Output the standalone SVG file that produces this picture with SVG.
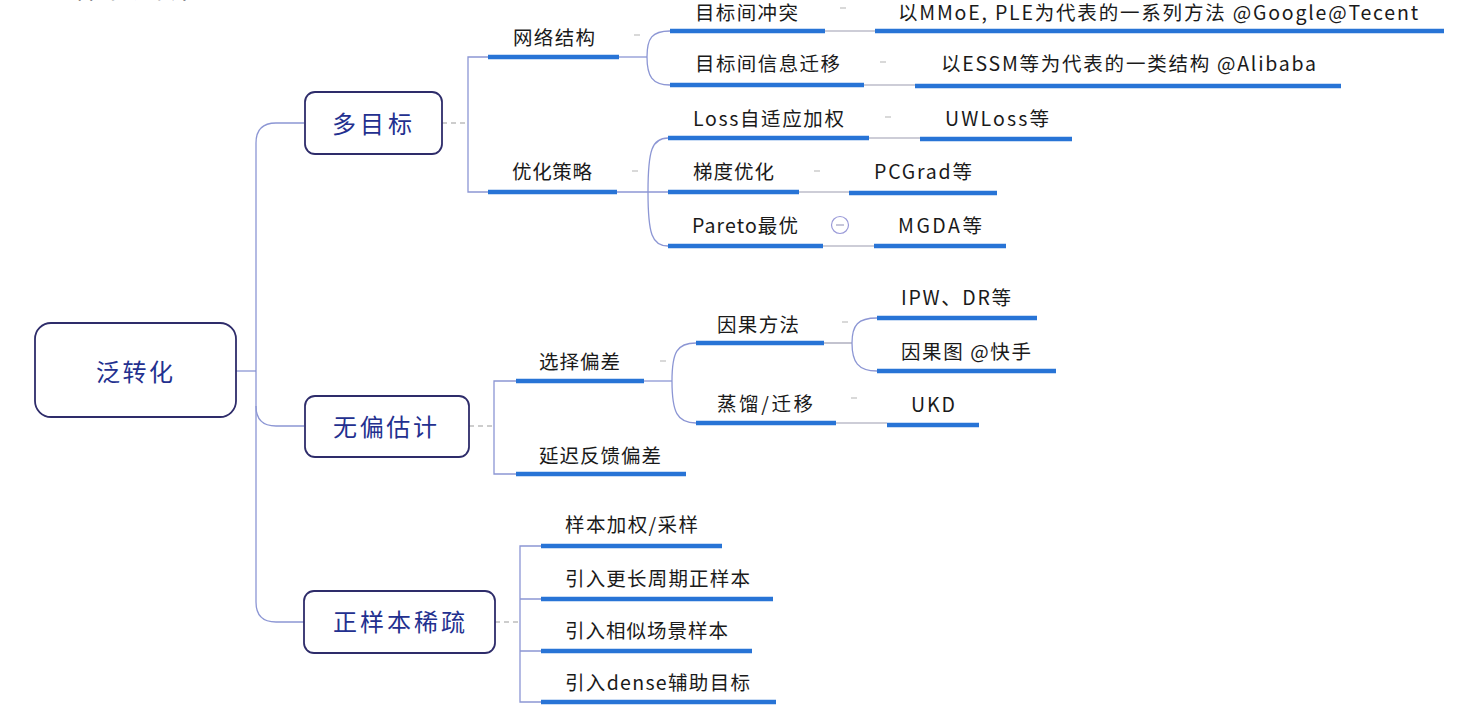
<svg xmlns="http://www.w3.org/2000/svg" width="1474" height="712" viewBox="0 0 1474 712">
<style>
.box{fill:#fff;stroke:#2e2c6a;stroke-width:1.8}
.bt{font-family:"Noto Sans CJK SC","Noto Sans",sans-serif;font-size:24px;fill:#23308f}
.t{font-family:"Noto Sans CJK SC","Noto Sans",sans-serif;font-size:19.5px;fill:#1a1a1a}
.ul{stroke:#2874d6;stroke-width:4.5;fill:none}
.c{stroke:#8c96d4;stroke-width:1.3;fill:none}
.g{stroke:#9b9bb0;stroke-width:1.2;fill:none}
.d{stroke:#bdbdbd;stroke-width:1.3;stroke-dasharray:5 4;fill:none}
.m{stroke:#c4c4c4;stroke-width:1.3}
</style>
<rect width="1474" height="712" fill="#fff"/>
<text x="22" y="-2" font-family="Noto Sans CJK SC, sans-serif" font-size="26" fill="#222">二、样本泛转化</text>

<g id="connectors">
<path class="c" d="M236,371 H256"/>
<path class="c" d="M304,123 H276 Q256,123 256,143 V602 Q256,622 276,622 H304"/>
<path class="c" d="M256,406 Q256,426 276,426 H304"/>
<path class="d" d="M442,123 H468"/>
<path class="c" d="M488,57 H468 V192 H488"/>
<path class="c" d="M619,57 H647"/>
<path class="c" d="M647,57 C647,38 652,31 670,31"/>
<path class="c" d="M647,57 C647,76 652,85 670,85"/>
<path class="g" d="M825,31 H875"/>
<path class="g" d="M864,85 H915"/>
<path class="c" d="M617,192 H668"/>
<path class="c" d="M648,192 C648,150 652,138 668,138"/>
<path class="c" d="M648,192 C648,234 652,246 668,246"/>
<path class="g" d="M869,138 H920"/>
<path class="g" d="M799,192 H849"/>
<path class="g" d="M823,246 H874"/>
<path class="d" d="M469,426 H494"/>
<path class="c" d="M516,381 H494 V474 H516"/>
<path class="c" d="M644,381 H672"/>
<path class="c" d="M672,381 C672,352 677,343 696,343"/>
<path class="c" d="M672,381 C672,412 677,423 696,423"/>
<path class="g" d="M824,343 H852"/>
<path class="c" d="M852,343 C852,325 858,318 877,318"/>
<path class="c" d="M852,343 C852,362 858,371 877,371"/>
<path class="g" d="M836,423 H887"/>
<path class="d" d="M495,622 H520"/>
<path class="c" d="M541,546 H520 V702 H541 M520,599 H541 M520,651 H541"/>
<g>
<line class="m" x1="634" y1="35" x2="640" y2="35"/>
<line class="m" x1="840" y1="8" x2="846" y2="8"/>
<line class="m" x1="880" y1="62" x2="886" y2="62"/>
<line class="m" x1="632" y1="171" x2="638" y2="171"/>
<line class="m" x1="885" y1="117" x2="891" y2="117"/>
<line class="m" x1="814" y1="171" x2="820" y2="171"/>
<line class="m" x1="660" y1="361" x2="666" y2="361"/>
<line class="m" x1="842" y1="322" x2="848" y2="322"/>
<line class="m" x1="851" y1="398" x2="857" y2="398"/>
</g>
</g>

<g id="root"><rect class="box" x="35" y="323" width="201" height="94" rx="16"/><text class="bt" x="96" y="381" textLength="77" lengthAdjust="spacing">泛转化</text></g>
<g id="n-duomubiao"><rect class="box" x="305" y="92" width="137" height="62" rx="10"/><text class="bt" x="332" y="133" textLength="80" lengthAdjust="spacing">多目标</text></g>
<g id="n-wupian"><rect class="box" x="305" y="396" width="164" height="61" rx="10"/><text class="bt" x="333" y="436" textLength="104" lengthAdjust="spacing">无偏估计</text></g>
<g id="n-zhengyangben"><rect class="box" x="304" y="591" width="191" height="62" rx="10"/><text class="bt" x="333" y="631" textLength="132" lengthAdjust="spacing">正样本稀疏</text></g>

<g id="n-wangluo"><line class="ul" x1="488" y1="57" x2="619" y2="57"/><text class="t" x="513" y="44.5" textLength="82" lengthAdjust="spacing">网络结构</text></g>
<g id="n-youhua"><line class="ul" x1="488" y1="192" x2="617" y2="192"/><text class="t" x="512" y="179" textLength="80" lengthAdjust="spacing">优化策略</text></g>
<g id="n-chongtu"><line class="ul" x1="670" y1="31" x2="825" y2="31"/><text class="t" x="695" y="19.5" textLength="103" lengthAdjust="spacing">目标间冲突</text></g>
<g id="n-qianyi"><line class="ul" x1="670" y1="85" x2="864" y2="85"/><text class="t" x="695" y="71" textLength="145" lengthAdjust="spacing">目标间信息迁移</text></g>
<g id="n-mmoe"><line class="ul" x1="875" y1="31" x2="1444" y2="31"/><text class="t" x="898" y="19.5" textLength="520" lengthAdjust="spacing">以MMoE, PLE为代表的一系列方法 @Google@Tecent</text></g>
<g id="n-essm"><line class="ul" x1="915" y1="86" x2="1341" y2="86"/><text class="t" x="941" y="71" textLength="375" lengthAdjust="spacing">以ESSM等为代表的一类结构 @Alibaba</text></g>
<g id="n-loss"><line class="ul" x1="668" y1="138" x2="869" y2="138"/><text class="t" x="693" y="126" textLength="151" lengthAdjust="spacing">Loss自适应加权</text></g>
<g id="n-uwloss"><line class="ul" x1="920" y1="139" x2="1072" y2="139"/><text class="t" x="945" y="126" textLength="104" lengthAdjust="spacing">UWLoss等</text></g>
<g id="n-tidu"><line class="ul" x1="668" y1="192" x2="799" y2="192"/><text class="t" x="693" y="179" textLength="81" lengthAdjust="spacing">梯度优化</text></g>
<g id="n-pcgrad"><line class="ul" x1="849" y1="193" x2="997" y2="193"/><text class="t" x="874" y="179" textLength="98" lengthAdjust="spacing">PCGrad等</text></g>
<g id="n-pareto"><line class="ul" x1="668" y1="246" x2="823" y2="246"/><text class="t" x="692" y="233" textLength="106" lengthAdjust="spacing">Pareto最优</text>
<circle cx="840" cy="225" r="8.5" fill="#fff" stroke="#9a9ad8" stroke-width="1.2"/><line x1="836" y1="225" x2="844" y2="225" stroke="#a0a0c0" stroke-width="1.2"/></g>
<g id="n-mgda"><line class="ul" x1="874" y1="246" x2="1006" y2="246"/><text class="t" x="898" y="233" textLength="84" lengthAdjust="spacing">MGDA等</text></g>
<g id="n-xuanze"><line class="ul" x1="516" y1="381" x2="644" y2="381"/><text class="t" x="539" y="369" textLength="81" lengthAdjust="spacing">选择偏差</text></g>
<g id="n-yanchi"><line class="ul" x1="516" y1="474" x2="686" y2="474"/><text class="t" x="539" y="463" textLength="122" lengthAdjust="spacing">延迟反馈偏差</text></g>
<g id="n-yinguo"><line class="ul" x1="696" y1="343" x2="824" y2="343"/><text class="t" x="717" y="332" textLength="82" lengthAdjust="spacing">因果方法</text></g>
<g id="n-zhengliu"><line class="ul" x1="696" y1="423" x2="836" y2="423"/><text class="t" x="717" y="411" textLength="96" lengthAdjust="spacing">蒸馏/迁移</text></g>
<g id="n-ipw"><line class="ul" x1="877" y1="318" x2="1037" y2="318"/><text class="t" x="901" y="305" textLength="110" lengthAdjust="spacing">IPW、DR等</text></g>
<g id="n-yinguotu"><line class="ul" x1="877" y1="371" x2="1056" y2="371"/><text class="t" x="901" y="359" textLength="130" lengthAdjust="spacing">因果图 @快手</text></g>
<g id="n-ukd"><line class="ul" x1="887" y1="425" x2="979" y2="425"/><text class="t" x="911" y="412" textLength="44" lengthAdjust="spacing">UKD</text></g>
<g id="n-jiaquan"><line class="ul" x1="541" y1="546" x2="722" y2="546"/><text class="t" x="565" y="532" textLength="133" lengthAdjust="spacing">样本加权/采样</text></g>
<g id="n-changzhouqi"><line class="ul" x1="541" y1="599" x2="773" y2="599"/><text class="t" x="565" y="586" textLength="185" lengthAdjust="spacing">引入更长周期正样本</text></g>
<g id="n-xiangsi"><line class="ul" x1="541" y1="651" x2="752" y2="651"/><text class="t" x="565" y="638" textLength="163" lengthAdjust="spacing">引入相似场景样本</text></g>
<g id="n-dense"><line class="ul" x1="541" y1="702" x2="776" y2="702"/><text class="t" x="565" y="690" textLength="185" lengthAdjust="spacing">引入dense辅助目标</text></g>
</svg>
